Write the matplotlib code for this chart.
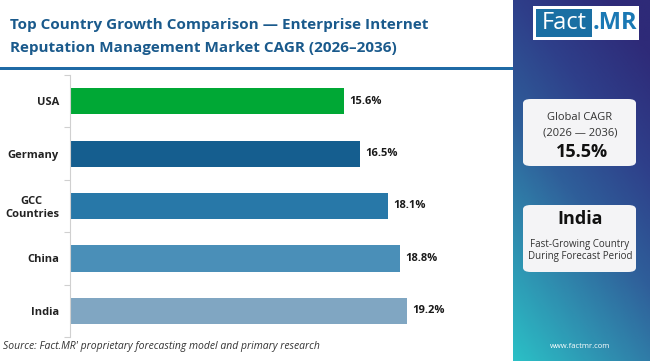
import numpy as np
import matplotlib
matplotlib.use("Agg")
import matplotlib.pyplot as plt
from matplotlib.patches import FancyBboxPatch, Rectangle
from matplotlib.colors import LinearSegmentedColormap

countries = ["USA", "Germany", "GCC\nCountries", "China", "India"]
cagr = [15.6, 16.5, 18.1, 18.8, 19.2]
bar_colors = ["#00a835", "#155e8f", "#2878a8", "#4a8fb8", "#80a6c2"]
global_cagr = "15.5%"
top_country = "India"

W, H = 650, 361
fig = plt.figure(figsize=(W / 100, H / 100), dpi=100)
fig.patch.set_facecolor("white")

def fx(px):
    return px / W

def fy(py):
    return 1 - py / H

# bar chart axes: x 70..470 px, y 75..337 px
ax = fig.add_axes([fx(70), fy(337), fx(400), (337 - 75) / H])
y = np.arange(len(countries))
ax.barh(y, cagr, height=0.5, color=bar_colors)
ax.set_ylim(4.5, -0.5)
ax.set_xlim(0, 400 / 17.56)
for i, v in enumerate(cagr):
    ax.text(v + 0.3, i, f"{v}%", va="center", ha="left", fontsize=8,
            fontweight="bold", color="#1a1a1a", family="Open Sans")
ax.set_yticks(y)
ax.set_yticklabels(countries, fontsize=8, fontweight="bold", color="#222222",
                   family="Open Sans", multialignment="center")
ax.tick_params(axis="y", which="major", length=0, pad=8)
ax.set_yticks(np.arange(-0.5, 5.0, 1.0), minor=True)
ax.tick_params(axis="y", which="minor", length=4, color="#d0d0d0", width=0.8)
ax.set_xticks([])
for s in ["top", "right", "bottom"]:
    ax.spines[s].set_visible(False)
ax.spines["left"].set_color("#d0d0d0")
ax.spines["left"].set_linewidth(0.8)

# title
fig.text(fx(10), fy(25), "Top Country Growth Comparison \u2014 Enterprise Internet",
         fontsize=11, fontweight="bold", color="#1a5a8c", family="Open Sans",
         va="center", ha="left")
fig.text(fx(10), fy(48), "Reputation Management Market CAGR (2026\u20132036)",
         fontsize=11, fontweight="bold", color="#1a5a8c", family="Open Sans",
         va="center", ha="left")
fig.add_artist(Rectangle((0, fy(70)), fx(513), 2.5 / H, transform=fig.transFigure,
                         color="#1f6aa5", lw=0))

# source
fig.text(fx(3), fy(347), "Source: Fact.MR' proprietary forecasting model and primary research",
         fontsize=7.5, style="italic", color="#333333", family="Open Sans",
         va="center", ha="left")

# right panel gradient
pax = fig.add_axes([fx(513), 0, fx(137), 1])
gx, gy = np.meshgrid(np.linspace(0, 1, 100), np.linspace(0, 1, 200))
t = np.clip(0.75 * gy + 0.35 * gx, 0, 1)
cmap = LinearSegmentedColormap.from_list(
    "panel", ["#2bc0c6", "#2f8fb0", "#2f5f9a", "#2e3f8a", "#2e2a78"])
pax.imshow(t, cmap=cmap, origin="lower", aspect="auto", extent=[0, 1, 0, 1])
pax.set_xlim(0, 1)
pax.set_ylim(0, 1)
pax.axis("off")

# logo
fig.add_artist(Rectangle((fx(533), fy(40)), fx(106), 34 / H, transform=fig.transFigure,
                         color="white", lw=0))
fig.add_artist(Rectangle((fx(536), fy(37)), fx(56), 28 / H, transform=fig.transFigure,
                         color="#1a6fa3", lw=0))
fig.text(fx(564), fy(23), "Fact", fontsize=17, color="white", family="Open Sans",
         ha="center", va="center")
fig.text(fx(615), fy(23), ".MR", fontsize=17, color="#1a78b4", family="Open Sans",
         fontweight="bold", ha="center", va="center")

# cards
for top, bot in [(99, 166), (205, 272)]:
    fig.add_artist(FancyBboxPatch((fx(523), fy(bot)), fx(113), (bot - top) / H,
                                  boxstyle="round,pad=0,rounding_size=0.012",
                                  transform=fig.transFigure, facecolor="#f4f4f6",
                                  edgecolor="none"))
fig.text(fx(580), fy(117), "Global CAGR", fontsize=8, color="#333333",
         family="Open Sans", ha="center", va="center")
fig.text(fx(580), fy(133), "(2026 \u2014 2036)", fontsize=8, color="#333333",
         family="Open Sans", ha="center", va="center")
fig.text(fx(582), fy(152), global_cagr, fontsize=13, fontweight="bold", color="#111111",
         family="Open Sans", ha="center", va="center")
fig.text(fx(580), fy(219), top_country, fontsize=13, fontweight="bold", color="#111111",
         family="Open Sans", ha="center", va="center")
fig.text(fx(580), fy(244), "Fast-Growing Country", fontsize=7, color="#333333",
         family="Open Sans", ha="center", va="center")
fig.text(fx(580), fy(257), "During Forecast Period", fontsize=7, color="#333333",
         family="Open Sans", ha="center", va="center")
fig.text(fx(580), fy(347), "www.factmr.com", fontsize=5.5, color="white",
         family="Open Sans", ha="center", va="center")

fig.savefig("out.png", dpi=100, facecolor="white")
